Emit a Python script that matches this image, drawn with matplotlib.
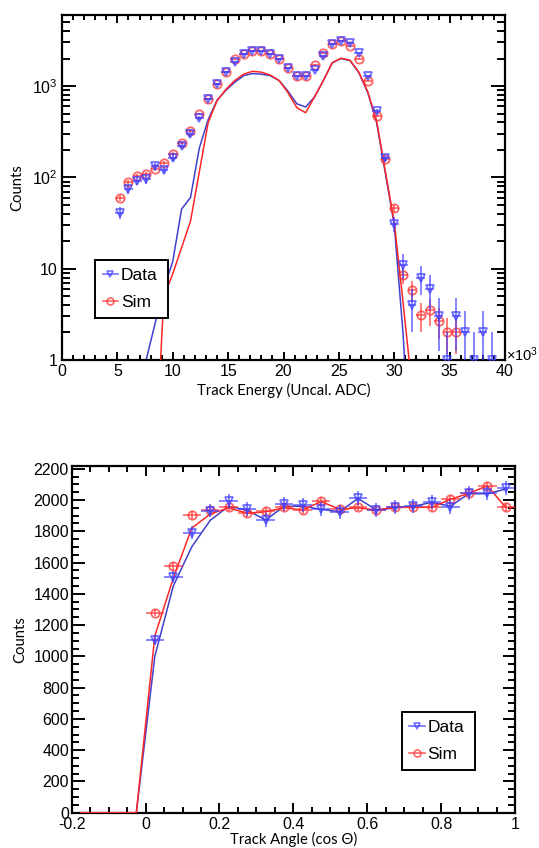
import matplotlib
matplotlib.use("Agg")
import matplotlib.pyplot as plt
from matplotlib.lines import Line2D
from matplotlib.ticker import FixedLocator, MultipleLocator, FuncFormatter, NullFormatter
import numpy as np

plt.rcParams["font.family"] = ["Liberation Sans", "DejaVu Sans"]
plt.rcParams["mathtext.fontset"] = "custom"
plt.rcParams["mathtext.rm"] = "Liberation Sans"
plt.rcParams["mathtext.it"] = "Liberation Sans:italic"

# --- track energy (x in units of 10^3 ADC), bin width 800 ADC ---
energy_bin_width = 0.8
energy_data_centers = np.arange(5.2, 38.81, energy_bin_width)
energy_data = [41, 74, 92, 95, 133, 120, 164, 222, 296, 444,
               722, 1054, 1440, 1850, 2240, 2425, 2400, 2240, 1965, 1570,
               1300, 1300, 1500, 2140, 2900, 3140, 2950, 2320, 1290, 533,
               164, 31, 11, 4, 8, 6, 3, 1, 3, 2,
               1, 2, 1]
energy_sim_centers = np.arange(5.2, 35.61, energy_bin_width)
energy_sim = [60, 88, 104, 108, 123, 143, 180, 240, 325, 495,
              722, 1054, 1440, 1965, 2240, 2425, 2400, 2240, 1965, 1570,
              1300, 1300, 1700, 2290, 2900, 3140, 2750, 2000, 1150, 470,
              160, 46, 8.5, 5.8, 3.1, 3.5, 2.7, 2.0, 2.0]

# curves drawn as lines
energy_line_centers = np.arange(7.6, 31.61, energy_bin_width)
energy_line_blue = [1.0, 2.5, 6, 12, 45, 60, 210, 430, 700, 900,
                    1100, 1300, 1370, 1350, 1300, 1150, 880, 640, 590, 760,
                    1150, 1800, 2000, 1900, 1400, 850, 400, 110, 30, 1.9,
                    0.03]
energy_line_red = [0.001, 0.07, 5, 8.8, 17, 33, 115, 400, 690, 920,
                   1150, 1350, 1450, 1420, 1320, 1150, 850, 580, 510, 760,
                   1150, 1800, 2020, 1920, 1420, 870, 420, 115, 32, 4.2,
                   0.5]

# --- track angle, bin width 0.05 ---
angle_bin_width = 0.05
angle_centers = np.arange(0.025, 0.976, angle_bin_width)
angle_data = [1105, 1509, 1791, 1932, 1996, 1941, 1872, 1974, 1968, 1940,
              1925, 2015, 1936, 1953, 1962, 1989, 1957, 2047, 2047, 2075]
angle_sim = [1279, 1578, 1902, 1936, 1953, 1915, 1928, 1953, 1936, 1994,
             1941, 1953, 1936, 1953, 1953, 1953, 2004, 2043, 2090, 1953]

angle_line_centers = np.arange(-0.175, 0.976, angle_bin_width)
angle_line_blue = [0, 0, 0, 0,
                   1000, 1450, 1700, 1870, 1960, 1935, 1872, 1960, 1960, 1940,
                   1925, 2010, 1936, 1950, 1960, 1985, 1960, 2040, 2040, 2070]
angle_line_red = [0, 0, 0, 0,
                  1130, 1500, 1820, 1910, 1950, 1915, 1925, 1950, 1936, 1990,
                  1941, 1950, 1936, 1953, 1953, 1953, 2004, 2043, 2090, 1953]

sim_err_scale = 0.6

blue_mark = (0.25, 0.25, 1.0, 0.75)
red_mark = (1.0, 0.2, 0.2, 0.75)
blue_line = (0.25, 0.25, 0.8)
red_line = (1.0, 0.15, 0.15)

label_font = ["Lato", "DejaVu Sans"]


def style_axes(ax):
    for s in ax.spines.values():
        s.set_linewidth(1.6)
    ax.tick_params(which="both", direction="in", top=True, right=True,
                   labelsize=11.5, width=1.4, color="black")


def draw_points(ax, x, values, half_width, err_scale, marker, color, zorder):
    values = np.array(values, dtype=float)
    ax.errorbar(x, values, xerr=half_width, yerr=err_scale * np.sqrt(values),
                fmt=marker, ms=6, mfc="none", mec=color, mew=1.3, ecolor=color,
                elinewidth=1.2, capsize=0, zorder=zorder)


def add_legend(ax, anchor):
    handles = [
        Line2D([], [], color=blue_mark, lw=1.2, marker="v", ms=5, mfc="none", mew=1.2),
        Line2D([], [], color=red_mark, lw=1.2, marker="o", ms=5, mfc="none", mew=1.2),
    ]
    leg = ax.legend(handles=handles, labels=["Data", "Sim"], loc="lower left",
                    bbox_to_anchor=anchor, mode="expand",
                    fontsize=12.5, frameon=True, fancybox=False, framealpha=1,
                    edgecolor="black", handlelength=0.9, handletextpad=0.15,
                    borderpad=0.45, labelspacing=0.7, borderaxespad=0)
    leg.get_frame().set_linewidth(1.4)
    return leg


fig = plt.figure(figsize=(5.39, 8.48), dpi=100)

# ---------------- top: track energy ----------------
ax1 = fig.add_axes([0.115, 0.5755, 0.822, 0.4068])
ax1.plot(energy_line_centers, energy_line_blue, color=blue_line, lw=1.1, zorder=2)
ax1.plot(energy_line_centers, energy_line_red, color=red_line, lw=1.1, zorder=3)
draw_points(ax1, energy_sim_centers, energy_sim, energy_bin_width / 2, sim_err_scale,
            "o", red_mark, 4)
draw_points(ax1, energy_data_centers, energy_data, energy_bin_width / 2, 1.0,
            "v", blue_mark, 5)

ax1.set_yscale("log")
ax1.set_xlim(0, 40)
ax1.set_ylim(1, 6000)
style_axes(ax1)
ax1.xaxis.set_major_locator(MultipleLocator(5))
ax1.xaxis.set_minor_locator(MultipleLocator(1))
ax1.tick_params(axis="x", which="major", length=6, pad=3)
ax1.tick_params(axis="x", which="minor", length=3.5)
ax1.tick_params(axis="y", which="major", length=10, pad=3)
ax1.tick_params(axis="y", which="minor", length=6)
ax1.yaxis.set_major_locator(FixedLocator([1, 10, 100, 1000]))
ax1.yaxis.set_minor_locator(FixedLocator(
    [m * 10 ** e for e in range(0, 4) for m in range(2, 10) if m * 10 ** e < 6000]))
ax1.yaxis.set_minor_formatter(NullFormatter())


def log_label(v, pos):
    if v == 1:
        return "1"
    if v == 10:
        return "10"
    return r"$10^{%d}$" % int(round(np.log10(v)))


ax1.yaxis.set_major_formatter(FuncFormatter(log_label))
ax1.text(1.003, 0.015, r"$\times10^{3}$", transform=ax1.transAxes, ha="left",
         va="center", fontsize=10.5)
ax1.set_xlabel("Track Energy (Uncal. ADC)", fontsize=10.7, family=label_font, labelpad=3)
ax1.set_ylabel("Counts", fontsize=10.7, family=label_font, labelpad=6)
add_legend(ax1, (0.074, 0.121, 0.166, 0.174))

# ---------------- bottom: track angle ----------------
ax2 = fig.add_axes([0.133, 0.0416, 0.8225, 0.4088])
ax2.plot(angle_line_centers, angle_line_blue, color=blue_line, lw=1.1, zorder=2)
ax2.plot(angle_line_centers, angle_line_red, color=red_line, lw=1.1, zorder=3)
draw_points(ax2, angle_centers, angle_sim, angle_bin_width / 2, sim_err_scale,
            "o", red_mark, 4)
draw_points(ax2, angle_centers, angle_data, angle_bin_width / 2, 1.0,
            "v", blue_mark, 5)

ax2.set_xlim(-0.2, 1.0)
ax2.set_ylim(0, 2217)
style_axes(ax2)
ax2.xaxis.set_major_locator(MultipleLocator(0.2))
ax2.xaxis.set_minor_locator(MultipleLocator(0.05))
ax2.yaxis.set_major_locator(MultipleLocator(200))
ax2.yaxis.set_minor_locator(MultipleLocator(50))
ax2.xaxis.set_major_formatter(FuncFormatter(lambda v, p: "%g" % round(v, 1)))
ax2.tick_params(axis="x", which="major", length=7, pad=3)
ax2.tick_params(axis="x", which="minor", length=4)
ax2.tick_params(axis="y", which="major", length=9, pad=2)
ax2.tick_params(axis="y", which="minor", length=5)
ax2.set_xlabel("Track Angle (cos \u0398)", fontsize=10.7, family=label_font, labelpad=0)
ax2.set_ylabel("Counts", fontsize=10.7, family=label_font, labelpad=4)
add_legend(ax2, (0.744, 0.123, 0.166, 0.175))

fig.savefig("out.png", dpi=100)
